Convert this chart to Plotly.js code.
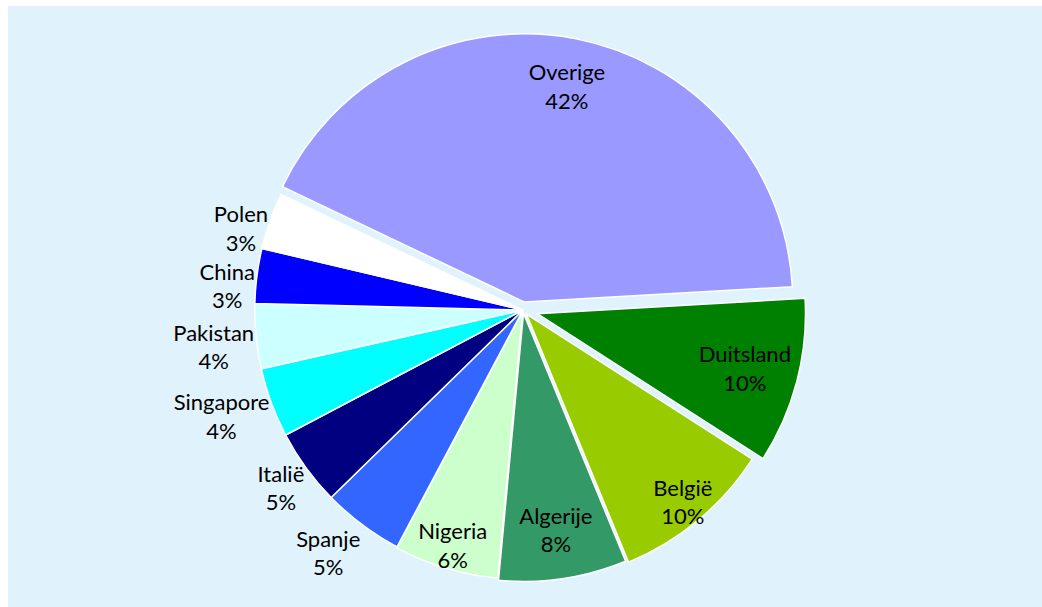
<!DOCTYPE html>
<html>
<head>
<meta charset="utf-8">
<script src="https://cdn.plot.ly/plotly-3.0.1.min.js"></script>
<style>
  html, body { margin: 0; padding: 0; background: #ffffff; }
  #chart { position: absolute; left: 8px; top: 6px; width: 1034px; height: 601px; }
</style>
</head>
<body>
<div id="chart"></div>
<script>
// ---- data ----
const labels = ['Overige', 'Duitsland', 'België', 'Algerije', 'Nigeria', 'Spanje', 'Italië', 'Singapore', 'Pakistan', 'China', 'Polen'];
const shares = [42.0, 10.0, 9.7, 7.7, 6.3, 4.9, 4.6, 4.2, 3.9, 3.3, 3.4];

// ---- styling ----
const colors = ['#9999FF', '#008000', '#99CC00', '#339966', '#CCFFCC', '#3366FF', '#000080', '#00FFFF', '#CCFFFF', '#0000FF', '#FFFFFF'];
const pulls = [0.03, 0.055, 0.02, 0.012, 0.004, 0, 0, 0, 0, 0, 0];
// label group per slice: inside rings 'a','b','c','d' (hole size picks the radius), 'out' = outside
const labelPlace = ['a', 'b', 'c', 'd', 'c', 'out', 'out', 'out', 'out', 'out', 'out'];
const ringHoles = { a: 0.64, b: 0.6, c: 0.82, d: 0.63 };

const W = 1034, H = 601;
// pie box in pixels (centre x, centre y, size)
function domainFor(cx, cy, size) {
  return {
    x: [(cx - size / 2) / W, (cx + size / 2) / W],
    y: [(H - cy - size / 2) / H, (H - cy + size / 2) / H]
  };
}
const pieDomain = domainFor(515, 304, 566);
const outLabelDomain = domainFor(527, 314, 566);

const tmpl = '%{label}<br>%{percent:.0%}';
const font = { family: 'Lato, sans-serif', size: 22, color: '#000000' };
const clear = labels.map(() => 'rgba(0,0,0,0)');

const common = {
  type: 'pie',
  labels: labels,
  values: shares,
  sort: false,
  direction: 'clockwise',
  rotation: -64.5,
  pull: pulls,
  domain: pieDomain,
  texttemplate: tmpl,
  insidetextorientation: 'horizontal',
  textfont: font,
  hoverinfo: 'label+percent',
  showlegend: false
};

// visible slices
const traces = [Object.assign({}, common, {
  marker: { colors: colors, line: { color: '#FFFFFF', width: 1.5 } },
  textposition: labels.map(() => 'none')
})];

// transparent helper rings that only carry the inside labels
Object.keys(ringHoles).forEach(key => {
  traces.push(Object.assign({}, common, {
    hole: ringHoles[key],
    marker: { colors: clear, line: { width: 0 } },
    textposition: labelPlace.map(p => p === key ? 'inside' : 'none')
  }));
});

// transparent helper carrying the outside labels
traces.push(Object.assign({}, common, {
  domain: outLabelDomain,
  marker: { colors: clear, line: { width: 0 } },
  textposition: labelPlace.map(p => p === 'out' ? 'outside' : 'none')
}));

const layout = {
  width: W,
  height: H,
  margin: { l: 0, r: 0, t: 0, b: 0 },
  paper_bgcolor: '#E0F3FD',
  plot_bgcolor: '#E0F3FD',
  showlegend: false,
  uniformtext: { mode: 'show', minsize: 22 }
};

Plotly.newPlot('chart', traces, layout, { displayModeBar: false, staticPlot: true });
</script>
</body>
</html>
